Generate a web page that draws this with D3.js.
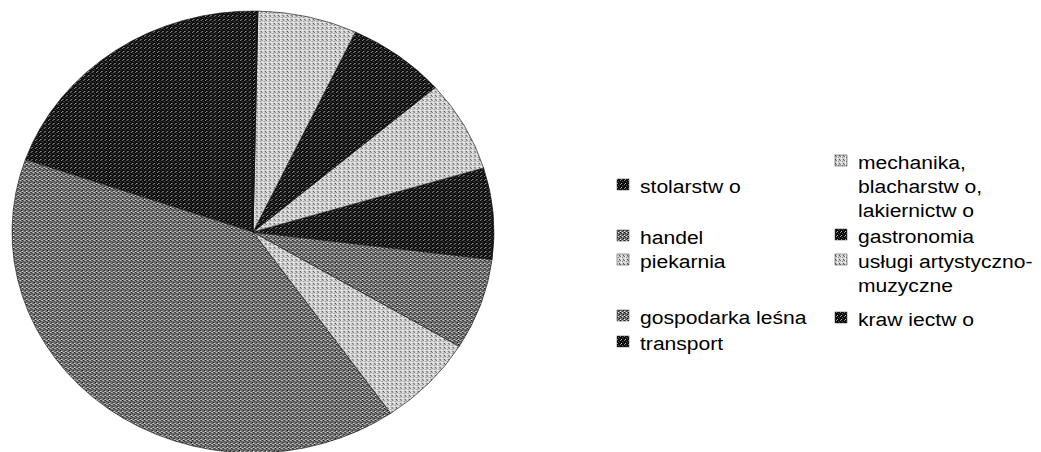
<!DOCTYPE html>
<html>
<head>
<meta charset="utf-8">
<script src="https://cdn.jsdelivr.net/npm/d3@7"></script>
<style>
  body { margin: 0; background: #fff; }
  svg { display: block; }
  .lab { font-family: "Liberation Sans", Arial, sans-serif; font-size: 19px; fill: #000; }
</style>
</head>
<body>
<div id="plot"></div>
<script>
// series order as it is drawn (counter-clockwise from the top)
const categories = ['stolarstw o', 'handel', 'piekarnia', 'gospodarka leśna', 'transport',
  'mechanika, blacharstw o, lakiernictw o', 'gastronomia', 'usługi artystyczno-muzyczne', 'kraw iectw o'];
const values = [3, 6, 1, 1, 1, 1, 1, 1, 0];
const tones = ['dark', 'medium', 'light', 'medium', 'dark', 'light', 'dark', 'light', 'dark'];

// legend lines (wrapped the way the picture has them)
const legendLines = [
  ['stolarstw o'],
  ['handel'],
  ['piekarnia'],
  ['gospodarka leśna'],
  ['transport'],
  ['mechanika,', 'blacharstw o,', 'lakiernictw o'],
  ['gastronomia'],
  ['usługi artystyczno-', 'muzyczne'],
  ['kraw iectw o'],
];

const svgWidth = 1041;
const svgHeight = 452;

const svg = d3.select('#plot').append('svg')
    .attr('width', svgWidth)
    .attr('height', svgHeight);

// dithered fills, like the scanned print
const defs = svg.append('defs');
const textures = {
  dark:   {base: '#0a0a0a', dots: [[0, 0, '#8a8a8a'], [2, 1, '#555'], [1, 3, '#bbb'], [3, 2, '#333']]},
  medium: {base: '#7a7a7a', dots: [[0, 0, '#111'], [2, 0, '#ddd'], [1, 1, '#333'], [3, 2, '#111'], [0, 3, '#e8e8e8'], [2, 3, '#444']]},
  light:  {base: '#d4d4d4', dots: [[0, 0, '#777'], [2, 1, '#8a8a8a'], [1, 2, '#fff'], [3, 3, '#555'], [3, 0, '#aaa'], [1, 0, '#f4f4f4']]},
};
Object.entries(textures).forEach(([name, t]) => {
  const p = defs.append('pattern')
      .attr('id', 'tex-' + name)
      .attr('patternUnits', 'userSpaceOnUse')
      .attr('width', 4)
      .attr('height', 4);
  p.append('rect').attr('width', 4).attr('height', 4).attr('fill', t.base);
  p.selectAll('rect.dot')
      .data(t.dots)
      .enter()
      .append('rect')
      .attr('class', 'dot')
      .attr('x', d => d[0])
      .attr('y', d => d[1])
      .attr('width', 1)
      .attr('height', 1)
      .attr('fill', d => d[2]);
});

// pie, a little wider than tall as in the scan
const ry = 221;
const rx = 241;
const offset = 0.02;
const pie = d3.pie()
    .sort(null)
    .value(d => d)
    .startAngle(2 * Math.PI + offset)
    .endAngle(offset);
const arc = d3.arc().innerRadius(0).outerRadius(ry);

const pieG = svg.append('g')
    .attr('transform', `translate(253,232) scale(${rx / ry},1)`);

pieG.selectAll('path')
    .data(pie(values))
    .enter()
    .append('path')
    .attr('d', arc)
    .attr('fill', (d, i) => `url(#tex-${tones[i]})`)
    .attr('stroke', '#111')
    .attr('stroke-width', 0.6)
    .attr('vector-effect', 'non-scaling-stroke');

// legend: two columns, filled row by row
const colX = [617, 835];
const rowY = [193, 244, 268, 324, 350, 169, 243, 268, 326];
const legendOrder = [0, 1, 2, 3, 4, 5, 6, 7, 8];
const lineGap = 24;
const stretch = 1.11;

const legend = svg.append('g');
const items = legend.selectAll('g.item')
    .data(legendOrder)
    .enter()
    .append('g')
    .attr('class', 'item');

items.append('rect')
    .attr('x', i => colX[i < 5 ? 0 : 1])
    .attr('y', i => rowY[i] - 14)
    .attr('width', 12)
    .attr('height', 11)
    .attr('fill', i => `url(#tex-${tones[i]})`)
    .attr('stroke', '#333')
    .attr('stroke-width', 0.5);

items.each(function (i) {
  const g = d3.select(this);
  legendLines[i].forEach((line, k) => {
    g.append('text')
        .attr('class', 'lab')
        .attr('transform', `translate(${colX[i < 5 ? 0 : 1] + 23},${rowY[i] + k * lineGap}) scale(${stretch},1)`)
        .text(line);
  });
});
</script>
</body>
</html>
